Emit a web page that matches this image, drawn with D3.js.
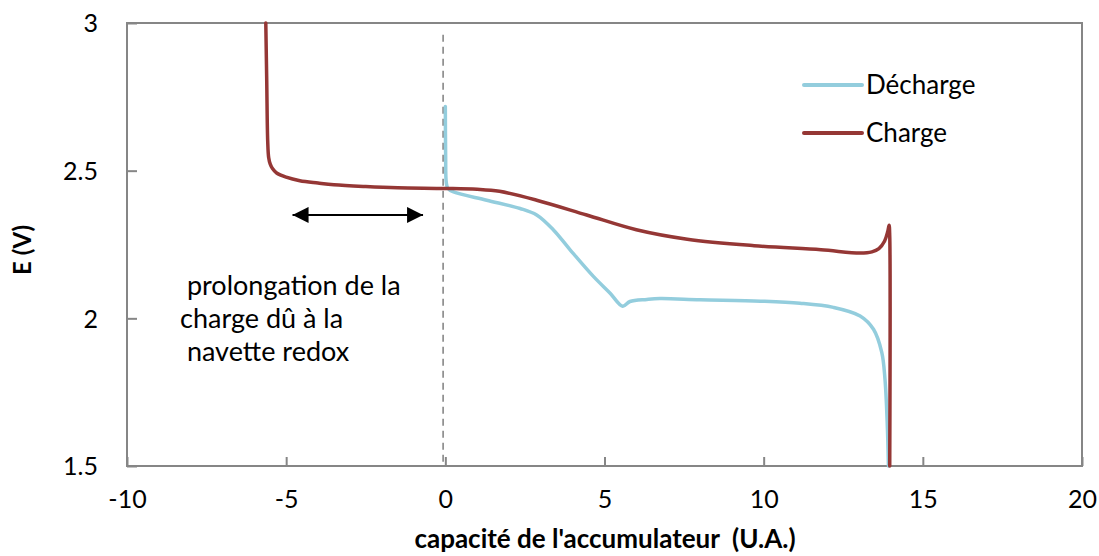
<!DOCTYPE html>
<html>
<head>
<meta charset="utf-8">
<script src="https://cdn.jsdelivr.net/npm/d3@7"></script>
<style>
  body { margin: 0; background: #fff; }
  svg text { font-family: Lato, "Open Sans", sans-serif; fill: #000; }
</style>
</head>
<body>
<svg width="1099" height="556"></svg>
<script>
// data
const chargeX = [-5.64, -5.61, -5.58, -5.55, -5.50, -5.43, -5.30, -5.00, -4.57, -4.00, -3.50, -2.50, -1.50, 0.00, 1.00, 1.70, 2.87, 4.44, 6.00, 7.60, 9.70, 11.80, 13.03, 13.40, 13.62, 13.80, 13.90, 13.94, 13.96, 13.96];
const chargeY = [3.00, 2.80, 2.60, 2.545, 2.522, 2.507, 2.492, 2.478, 2.466, 2.458, 2.452, 2.446, 2.442, 2.440, 2.437, 2.430, 2.400, 2.350, 2.300, 2.268, 2.246, 2.232, 2.221, 2.225, 2.236, 2.262, 2.295, 2.315, 2.28, 1.50];

const dischargeX = [0.00, 0.01, 0.03, 0.08, 0.26, 1.30, 2.35, 2.87, 3.39, 3.92, 4.65, 5.17, 5.57, 5.80, 6.33, 6.74, 8.00, 9.90, 11.14, 12.19, 13.03, 13.45, 13.71, 13.81, 13.88, 13.92];
const dischargeY = [2.717, 2.55, 2.46, 2.44, 2.428, 2.400, 2.372, 2.350, 2.300, 2.232, 2.142, 2.086, 2.041, 2.057, 2.064, 2.067, 2.063, 2.058, 2.051, 2.037, 2.008, 1.963, 1.885, 1.795, 1.65, 1.50];

const xTicks = [-10, -5, 0, 5, 10, 15, 20];
const yTicks = [1.5, 2, 2.5, 3];
const seriesNames = ["Décharge", "Charge"];
const seriesColors = ["#93cddd", "#953735"];
const noteLines = [" prolongation de la", "charge dû à la", " navette redox"];
const arrowFrom = -4.8, arrowTo = -0.7, arrowAt = 2.35;
const zeroLine = -0.07;

const svg = d3.select("svg");
const plotLeft = 127, plotRight = 1082, plotTop = 23, plotBottom = 466;

const x = d3.scaleLinear().domain([-10, 20]).range([plotLeft, plotRight]);
const y = d3.scaleLinear().domain([1.5, 3]).range([plotBottom, plotTop]);

const axisColor = "#868686";

// frame
svg.append("rect")
  .attr("x", plotLeft).attr("y", plotTop)
  .attr("width", plotRight - plotLeft).attr("height", plotBottom - plotTop)
  .attr("fill", "none").attr("stroke", axisColor).attr("stroke-width", 2);

// x axis (ticks inside)
const xAxis = svg.append("g")
  .attr("transform", `translate(0,${plotBottom})`)
  .call(d3.axisBottom(x).tickValues(xTicks).tickSize(0).tickPadding(0).tickFormat(d => String(d)));
xAxis.select(".domain").remove();
xAxis.selectAll(".tick line").remove();
xAxis.selectAll(".tick").append("line")
  .attr("y1", 0).attr("y2", -9)
  .attr("stroke", axisColor).attr("stroke-width", 2);
xAxis.selectAll(".tick text")
  .attr("dy", null).attr("y", 42)
  .attr("font-size", 25);

// y axis (ticks inside)
const yAxis = svg.append("g")
  .attr("transform", `translate(${plotLeft},0)`)
  .call(d3.axisLeft(y).tickValues(yTicks).tickSize(0).tickPadding(0).tickFormat(d => String(d)));
yAxis.select(".domain").remove();
yAxis.selectAll(".tick line").remove();
yAxis.selectAll(".tick").append("line")
  .attr("x1", 0).attr("x2", 10)
  .attr("stroke", axisColor).attr("stroke-width", 2);
yAxis.selectAll(".tick text")
  .attr("x", -29).attr("dy", "0.35em")
  .attr("font-size", 25);

// dashed zero line
svg.append("line")
  .attr("x1", x(zeroLine)).attr("x2", x(zeroLine))
  .attr("y1", y(2.96)).attr("y2", plotBottom)
  .attr("stroke", "#7f7f7f").attr("stroke-width", 1.5)
  .attr("stroke-dasharray", "7,5");

// series
const line = d3.line().x(d => x(d[0])).y(d => y(d[1])).curve(d3.curveCatmullRom.alpha(0.5));

svg.append("path")
  .datum(d3.zip(dischargeX, dischargeY))
  .attr("d", line)
  .attr("fill", "none").attr("stroke", seriesColors[0])
  .attr("stroke-width", 3.5).attr("stroke-linejoin", "round").attr("stroke-linecap", "round");

svg.append("path")
  .datum(d3.zip(chargeX, chargeY))
  .attr("d", line)
  .attr("fill", "none").attr("stroke", seriesColors[1])
  .attr("stroke-width", 3.5).attr("stroke-linejoin", "round").attr("stroke-linecap", "round");

// double arrow
const defs = svg.append("defs");
defs.append("marker")
  .attr("id", "head")
  .attr("viewBox", "0 0 10 10")
  .attr("refX", 10).attr("refY", 5)
  .attr("markerWidth", 17).attr("markerHeight", 16)
  .attr("markerUnits", "userSpaceOnUse")
  .attr("orient", "auto-start-reverse")
  .append("path").attr("d", "M0,0 L10,5 L0,10 Z").attr("fill", "#000");

svg.append("line")
  .attr("x1", x(arrowFrom)).attr("x2", x(arrowTo))
  .attr("y1", y(arrowAt)).attr("y2", y(arrowAt))
  .attr("stroke", "#000").attr("stroke-width", 2)
  .attr("marker-start", "url(#head)").attr("marker-end", "url(#head)");

// annotation
svg.append("text")
  .attr("x", 180).attr("y", 295)
  .attr("font-size", 27)
  .style("white-space", "pre")
  .selectAll("tspan").data(noteLines).join("tspan")
  .attr("x", 180).attr("dy", (d, i) => i ? 33 : 0)
  .text(d => d);

// legend
const legend = svg.append("g");
seriesNames.forEach((name, i) => {
  const ly = 85 + i * 48;
  legend.append("line")
    .attr("x1", 804).attr("x2", 862).attr("y1", ly).attr("y2", ly)
    .attr("stroke", seriesColors[i]).attr("stroke-width", 4).attr("stroke-linecap", "round");
  legend.append("text")
    .attr("x", 866).attr("y", ly).attr("dy", "0.35em")
    .attr("font-size", 26).text(name);
});

// axis titles
svg.append("text")
  .attr("x", 605).attr("y", 548)
  .attr("text-anchor", "middle").attr("font-size", 26).attr("font-weight", "bold")
  .style("white-space", "pre")
  .text("capacité de l'accumulateur  (U.A.)");

svg.append("text")
  .attr("transform", "translate(31,250) rotate(-90)")
  .attr("text-anchor", "middle").attr("font-size", 24).attr("font-weight", "bold")
  .text("E (V)");
</script>
</body>
</html>
